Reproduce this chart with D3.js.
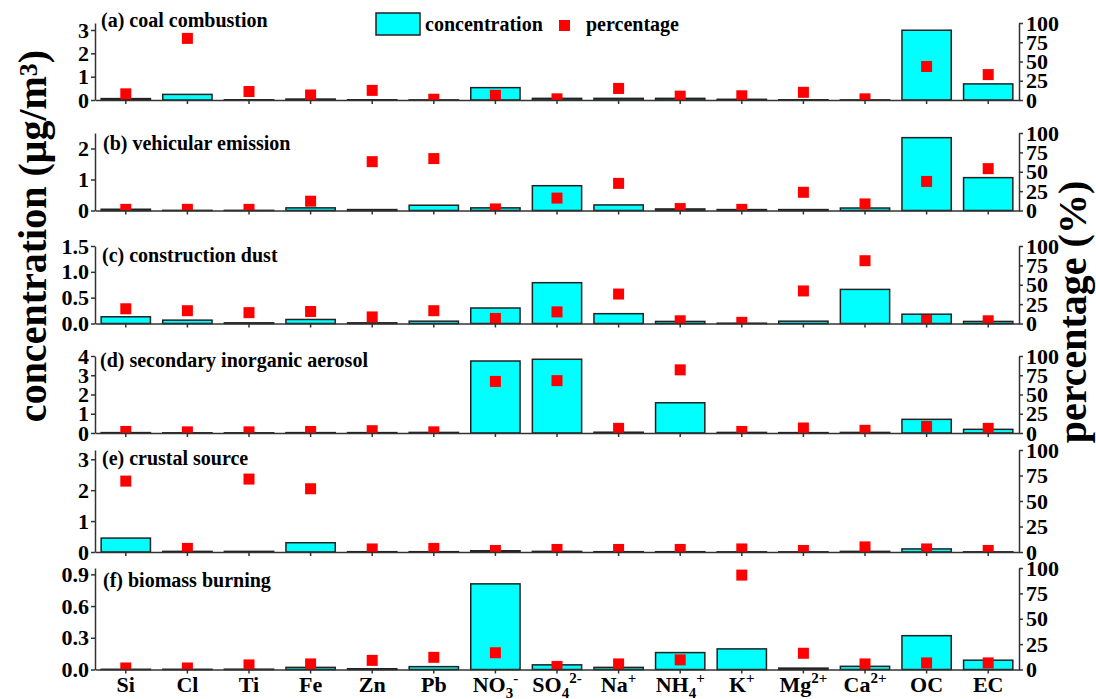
<!DOCTYPE html>
<html>
<head>
<meta charset="utf-8">
<script src="https://cdn.jsdelivr.net/npm/d3@7"></script>
<style>
body { margin: 0; background: white; }
text { font-family: "Liberation Serif", "Times New Roman", serif; font-weight: bold; fill: #000; }
</style>
</head>
<body>
<div id="chart"></div>
<script>
var width = 1096, height = 699;

// categories (x axis); _{..} subscript, ^{..} superscript
const cats = ["Si","Cl","Ti","Fe","Zn","Pb","NO_{3}^{-}","SO_{4}^{2-}","Na^{+}","NH_{4}^{+}","K^{+}","Mg^{2+}","Ca^{2+}","OC","EC"];

const panelNames = ["(a) coal combustion","(b) vehicular emission","(c) construction dust",
	"(d) secondary inorganic aerosol","(e) crustal source","(f) biomass burning"];

// concentration (ug/m3)
const concA = [0.06,0.24,0.01,0.04,0.01,0.005,0.53,0.07,0.07,0.07,0.03,0.01,0.005,2.99,0.69];
const concB = [0.04,0.005,0.005,0.085,0.03,0.17,0.085,0.80,0.18,0.05,0.03,0.03,0.08,2.35,1.06];
const concC = [0.13,0.065,0.013,0.078,0.013,0.045,0.30,0.79,0.19,0.04,0.006,0.045,0.66,0.18,0.04];
const concD = [0.02,0.01,0.01,0.02,0.02,0.03,3.74,3.83,0.04,1.57,0.03,0.02,0.03,0.71,0.19];
const concE = [0.45,0.02,0.02,0.30,0.01,0.01,0.04,0.02,0.01,0.01,0.005,0.005,0.02,0.10,0.005];
const concF = [0.002,0.002,0.003,0.02,0.007,0.027,0.81,0.044,0.02,0.16,0.195,0.013,0.03,0.32,0.088];

// percentage (%)
const pctA = [8,80,11,6.5,12.5,1,6,1.5,15,5,5.5,10,1.5,43.5,33];
const pctB = [1.5,1.5,1.5,12,63,67,2,16,35,2.5,1.5,23.5,8.5,37.5,54];
const pctC = [19,16.5,14,15.5,8.5,16.5,6.5,15,38,3.5,1.5,42,81,4,3.5];
const pctD = [2,1.5,1.5,2,3,1.5,67,68,6,82,2,6.5,3.5,8.5,6];
const pctE = [69.5,3.5,71.5,62,3,3.5,1.5,2.5,2.5,2.5,3,1.5,5,3,1.5];
const pctF = [1.5,1.5,4.5,5.5,9,12,16.5,3,5.5,9.5,93,16,5.5,6.5,6.5];

const concMax = [3.3,2.5,1.5,4,3.3,0.96];
const concTicks = [[0,1,2,3],[0,1,2],[0,0.5,1.0,1.5],[0,1,2,3,4],[0,1,2,3],[0,0.3,0.6,0.9]];
const concFmt = ["d","d",".1f","d","d",".1f"];
const pctTicks = [0,25,50,75,100];

const concAll = [concA,concB,concC,concD,concE,concF];
const pctAll = [pctA,pctB,pctC,pctD,pctE,pctF];

// layout: [top, zero line] of each panel, and label position
var panelBox = [[23,100],[133,210.5],[246,323.5],[356,433],[450,552],[568,669.5]];
var labelPos = [[101,27],[103,150],[102,262],[100,367],[102,465],[103,587]];
var x0 = 95, x1 = 1019;

var svg = d3.select('#chart').append('svg')
	.attr('width', width)
	.attr('height', height);

var x = d3.scaleBand().domain(d3.range(cats.length))
	.range([x0, x1]).paddingInner(0.2).paddingOuter(0.1);

function addRich(sel, str, big, small) {
	var parts = str.match(/(_\{[^}]*\}|\^\{[^}]*\}|[^_^]+)/g);
	var shift = 0;
	parts.forEach(function(p) {
		var target = 0, txt = p, size = big;
		if (p[0] == '_') { target = 6; txt = p.slice(2, -1); size = small; }
		else if (p[0] == '^') { target = -9; txt = p.slice(2, -1); size = small; }
		sel.append('tspan').attr('dy', target - shift)
			.style('font-size', size + 'px').text(txt);
		shift = target;
	});
}

panelNames.forEach(function(name, k) {
	var top = panelBox[k][0], zero = panelBox[k][1];
	var y = d3.scaleLinear().domain([0, concMax[k]]).range([zero, top]);
	var yp = d3.scaleLinear().domain([0, 100]).range([zero, top]);
	var g = svg.append('g');

	g.append('clipPath').attr('id', 'clip' + k)
		.append('rect').attr('x', x0).attr('y', top - 10)
		.attr('width', x1 - x0).attr('height', zero - top + 10);

	g.selectAll('rect.bar')
		.data(concAll[k])
		.enter().append('rect')
		.attr('class', 'bar')
		.attr('x', function(d, i) { return x(i); })
		.attr('y', function(d) { return y(d); })
		.attr('width', x.bandwidth())
		.attr('height', function(d) { return zero - y(d); })
		.style('fill', '#00FFFF')
		.style('stroke', '#222')
		.style('stroke-width', 1.5);

	g.append('g').attr('clip-path', 'url(#clip' + k + ')')
		.selectAll('rect.pt')
		.data(pctAll[k])
		.enter().append('rect')
		.attr('class', 'pt')
		.attr('x', function(d, i) { return x(i) + x.bandwidth() / 2 - 5.5; })
		.attr('y', function(d) { return yp(d) - 5.5; })
		.attr('width', 11)
		.attr('height', 11)
		.style('fill', '#FF0000');

	var left = g.append('g').attr('transform', 'translate(' + x0 + ',0)')
		.call(d3.axisLeft(y).tickValues(concTicks[k]).tickFormat(d3.format(concFmt[k]))
			.tickSize(4).tickSizeOuter(0).tickPadding(2));
	var right = g.append('g').attr('transform', 'translate(' + x1 + ',0)')
		.call(d3.axisRight(yp).tickValues(pctTicks).tickSize(4).tickSizeOuter(0).tickPadding(3));
	var bottom = g.append('g').attr('transform', 'translate(0,' + zero + ')')
		.call(d3.axisBottom(x).tickSize(4).tickSizeOuter(0).tickFormat(''));
	[left, right, bottom].forEach(function(a) {
		a.selectAll('path, line').style('stroke', '#333').style('stroke-width', 1.5);
		a.selectAll('text').style('font-size', '22px')
			.style('font-family', '"Liberation Serif", serif').style('font-weight', 'bold');
	});
	bottom.selectAll('text').remove();

	g.append('text')
		.attr('x', labelPos[k][0]).attr('y', labelPos[k][1])
		.style('font-size', '20px')
		.text(name);

	if (k == panelNames.length - 1) {
		cats.forEach(function(c, i) {
			var t = svg.append('text')
				.attr('x', x(i) + x.bandwidth() / 2)
				.attr('y', 692)
				.attr('text-anchor', 'middle');
			addRich(t, c, 22, 15);
		});
	}
});

// axis titles
var lt = svg.append('text')
	.attr('transform', 'translate(46,236) rotate(-90)')
	.attr('text-anchor', 'middle')
	.style('font-size', '40px');
addRich(lt, 'concentration (\u03bcg/m^{3})', 40, 26);

svg.append('text')
	.attr('transform', 'translate(1086,312) rotate(-90)')
	.attr('text-anchor', 'middle')
	.style('font-size', '40px')
	.text('percentage (%)');

// legend
svg.append('rect').attr('x', 376).attr('y', 13).attr('width', 44).attr('height', 22)
	.style('fill', '#00FFFF').style('stroke', '#222').style('stroke-width', 1.5);
svg.append('text').attr('x', 425).attr('y', 31).style('font-size', '20px').text('concentration');
svg.append('rect').attr('x', 559).attr('y', 20).attr('width', 11).attr('height', 11)
	.style('fill', '#FF0000');
svg.append('text').attr('x', 586).attr('y', 31).style('font-size', '20px').text('percentage');
</script>
</body>
</html>
